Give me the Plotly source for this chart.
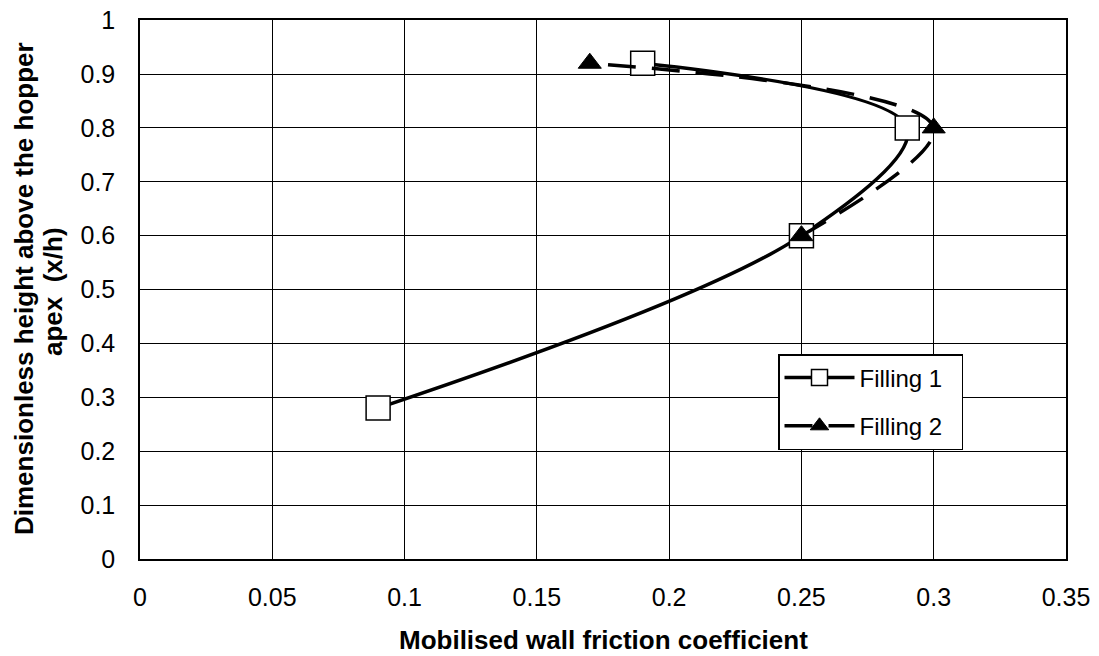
import plotly.graph_objects as go

f1_x = [0.09, 0.25, 0.29, 0.19]
f1_y = [0.28, 0.60, 0.80, 0.92]
f2_x = [0.25, 0.30, 0.17]
f2_y = [0.60, 0.80, 0.92]

x_ticks = [0, 0.05, 0.1, 0.15, 0.2, 0.25, 0.3, 0.35]
x_tick_labels = ["0", "0.05", "0.1", "0.15", "0.2", "0.25", "0.3", "0.35"]
y_ticks = [0, 0.1, 0.2, 0.3, 0.4, 0.5, 0.6, 0.7, 0.8, 0.9, 1]
y_tick_labels = ["0", "0.1", "0.2", "0.3", "0.4", "0.5", "0.6", "0.7", "0.8", "0.9", "1"]

FONT = "Liberation Sans, Arial"
W, H = 1099, 656
L, R, T, B = 140, 33, 20, 97
PW, PH = W - L - R, H - T - B

fig = go.Figure()
fig.add_trace(go.Scatter(
    x=f1_x, y=f1_y, name="Filling 1\u00a0\u00a0", mode="lines+markers", legendgroup="a",
    line=dict(color="black", width=3.5, shape="spline", smoothing=1),
    marker=dict(symbol="square", size=24, color="white", line=dict(color="black", width=1.5)),
))
fig.add_trace(go.Scatter(
    x=f2_x, y=f2_y, name="Filling 2\u00a0\u00a0", mode="lines+markers", legendgroup="b",
    line=dict(color="black", width=3.5, shape="spline", smoothing=1, dash="28px,16px"),
    marker=dict(symbol="triangle-up", size=20, color="black", line=dict(color="black", width=1)),
))


def px_x(sx):
    return (sx - L) / PW


def px_y(sy):
    return (H - B - sy) / PH


fig.update_layout(
    width=W, height=H,
    margin=dict(l=L, r=R, t=T, b=B, autoexpand=False),
    plot_bgcolor="white", paper_bgcolor="white",
    font=dict(family=FONT, size=25, color="black"),
    showlegend=True,
    legend=dict(
        x=px_x(778), y=px_y(354), xanchor="left", yanchor="top",
        bordercolor="black", borderwidth=1.5, bgcolor="white",
        font=dict(family=FONT, size=24, color="black"),
        itemwidth=70, tracegroupgap=14,
    ),
    xaxis=dict(
        range=[0, 0.35], tickvals=x_ticks, ticktext=x_tick_labels,
        showgrid=True, gridcolor="black", gridwidth=1,
        showline=True, linecolor="black", linewidth=1.5, mirror=True,
        ticks="", zeroline=False, ticklabelstandoff=15, automargin=False,
        tickfont=dict(size=25), ticklabeloverflow="allow",
    ),
    yaxis=dict(
        range=[0, 1.0002], tickvals=y_ticks, ticktext=y_tick_labels,
        showgrid=True, gridcolor="black", gridwidth=1,
        showline=True, linecolor="black", linewidth=1.5, mirror=True,
        ticks="", zeroline=False, ticklabelstandoff=18, automargin=False,
        tickfont=dict(size=25), ticklabeloverflow="allow",
    ),
    annotations=[
        dict(text="<b>Mobilised wall friction coefficient</b>", xref="paper", yref="paper",
             x=0.5, y=px_y(640), xanchor="center", yanchor="middle", showarrow=False,
             font=dict(family=FONT, size=26, color="black")),
        dict(text="<b>Dimensionless height above the hopper</b>", xref="paper", yref="paper",
             x=px_x(24), y=px_y(289), xanchor="center", yanchor="middle", showarrow=False,
             textangle=-90, font=dict(family=FONT, size=26, color="black")),
        dict(text="<b>apex  (x/h)</b>", xref="paper", yref="paper",
             x=px_x(53), y=px_y(292), xanchor="center", yanchor="middle", showarrow=False,
             textangle=-90, font=dict(family=FONT, size=26, color="black")),
    ],
)
fig.write_html("out.html", config={"displayModeBar": False},
               post_script="document.body.style.margin='0px';")
